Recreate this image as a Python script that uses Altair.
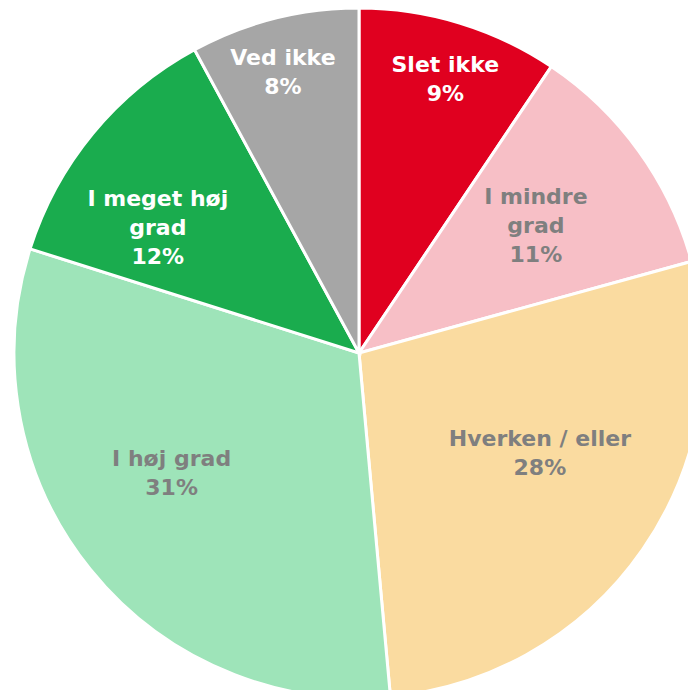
import altair as alt
import pandas as pd

categories = ["Slet ikke", "I mindre grad", "Hverken / eller", "I høj grad", "I meget høj grad", "Ved ikke"]
label_text = ["Slet ikke", "I mindre\ngrad", "Hverken / eller", "I høj grad", "I meget høj\ngrad", "Ved ikke"]
values = [9.4, 11.3, 27.8, 31.3, 12.2, 7.9]
colors = ["#E0001F", "#F7BFC6", "#FADBA0", "#9EE4B9", "#1AAC4E", "#A6A6A6"]
text_colors = ["#FFFFFF", "#7F7F7F", "#7F7F7F", "#7F7F7F", "#FFFFFF", "#FFFFFF"]

# label layout (radius in px, pixel nudge)
label_radius = [286, 218, 209, 220, 235, 289]
label_nudge = [(3, 0), (0, 0), (9, -18), (-16, -17), (-20, 25), (-5, 0)]
LINE_H = 29

df = pd.DataFrame({
    "cat": categories,
    "value": values,
    "order": list(range(len(categories))),
    "label": [f"{t}\n{round(v)}%" for t, v in zip(label_text, values)],
})
total = sum(values)

R = 345

base = alt.Chart(df)

pie = base.mark_arc(stroke="white", strokeWidth=3, radius=R).encode(
    theta=alt.Theta("value:Q", stack=True),
    order=alt.Order("order:Q"),
    color=alt.Color("cat:N", scale=alt.Scale(domain=categories, range=colors), legend=None),
)

layers = [pie]
for i, c in enumerate(categories):
    dx, dy = label_nudge[i]
    n_lines = label_text[i].count("\n") + 2
    dy = dy - (n_lines - 1) * LINE_H / 2
    t = (
        base.transform_window(cum="sum(value)", sort=[alt.SortField("order")], frame=[None, 0])
        .transform_calculate(mid=f"(datum.cum - datum.value/2) / {total} * 2 * PI")
        .transform_filter(alt.datum.cat == c)
        .mark_text(
            font="DejaVu Sans", fontWeight="bold", fontSize=22, lineBreak="\n",
            lineHeight=LINE_H, align="center", baseline="middle",
            radius=label_radius[i], dx=dx, dy=dy, color=text_colors[i],
        )
        .encode(theta=alt.Theta("mid:Q", scale=None), text="label:N")
    )
    layers.append(t)

chart = alt.layer(*layers).properties(
    width=658, height=666,
    padding={"left": 22, "top": 12, "right": 0, "bottom": 4},
    autosize=alt.AutoSizeParams(type="none"),
).configure_view(stroke=None)

chart.save("out.html", embed_options={"renderer": "svg", "actions": False})
